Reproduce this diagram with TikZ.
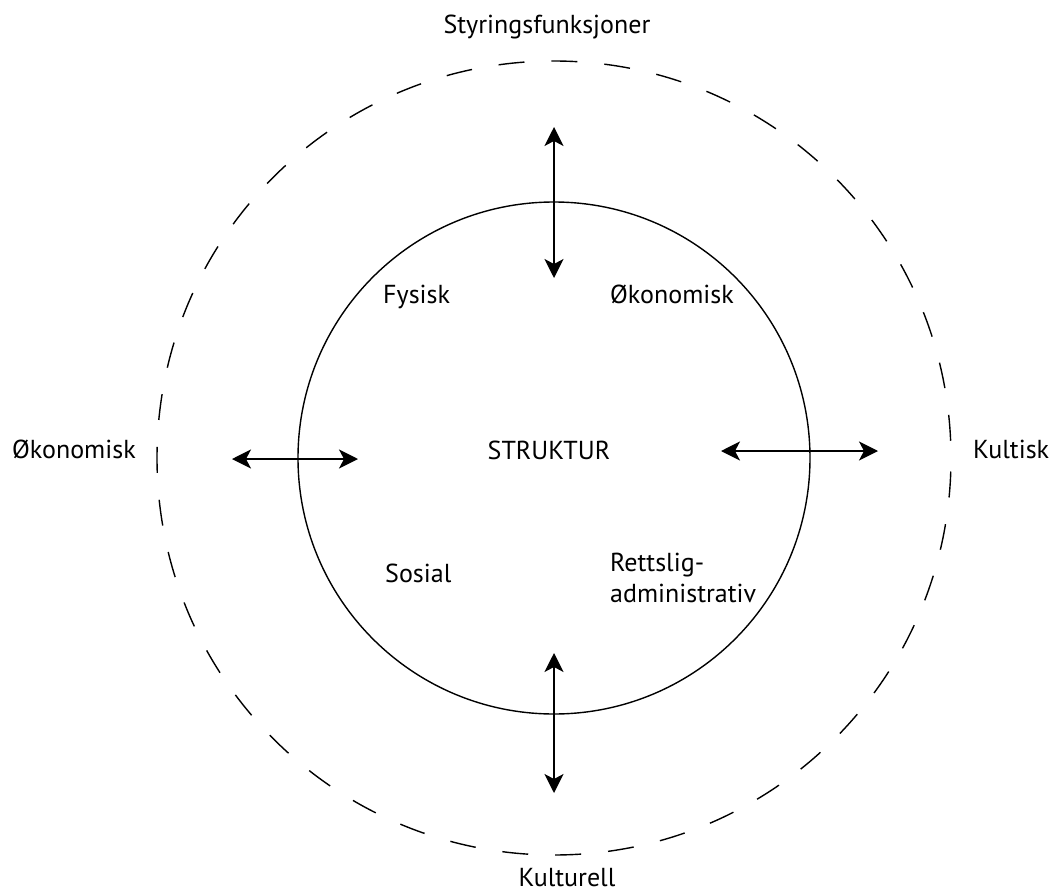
\documentclass[tikz,border=0pt]{standalone}
\usepackage{fontspec}
\setmainfont{PT Sans}
\usetikzlibrary{arrows.meta}

\begin{document}
\begin{tikzpicture}[x=1pt,y=-1pt,
  txt/.style={font=\fontsize{26}{31}\selectfont, inner sep=0pt},
  ring/.style={line width=1.4pt},
  twoway/.style={{Stealth[length=19pt,width=19pt,inset=5pt]}-{Stealth[length=19pt,width=19pt,inset=5pt]}, line width=1.5pt}]
\useasboundingbox (0,0) rectangle (1053,894);
\coordinate (centre) at (554,458);
\draw[ring] (centre) circle (256);
\draw[ring, dash pattern=on 26pt off 27pt, dash phase=39.5pt] (centre) circle (397);

\coordinate (topOut) at (554,127);
\coordinate (topIn) at (554,278);
\coordinate (botIn) at (554,653);
\coordinate (botOut) at (554,793);
\coordinate (leftOut) at (232,459);
\coordinate (leftIn) at (358,459);
\coordinate (rightIn) at (721,451);
\coordinate (rightOut) at (878,451);
\draw[twoway] (topOut) -- (topIn);
\draw[twoway] (botIn) -- (botOut);
\draw[twoway] (leftOut) -- (leftIn);
\draw[twoway] (rightIn) -- (rightOut);

\node[txt, anchor=base] (styring) at (547,33) {Styringsfunksjoner};
\node[txt, anchor=base] (kulturell) at (567,886) {Kulturell};
\node[txt, anchor=base west] (okoLeft) at (12,458) {Økonomisk};
\node[txt, anchor=base west] (kultisk) at (973,458) {Kultisk};
\node[txt, anchor=base west] (fysisk) at (383,303) {Fysisk};
\node[txt, anchor=base west] (okoInner) at (610,303) {Økonomisk};
\node[txt, anchor=base] (struktur) at (549,459) {STRUKTUR};
\node[txt, anchor=base west] (sosial) at (385,582) {Sosial};
\node[txt, anchor=base west, align=left] (rettslig) at (610,602) {Rettslig-\\administrativ};
\end{tikzpicture}
\end{document}
